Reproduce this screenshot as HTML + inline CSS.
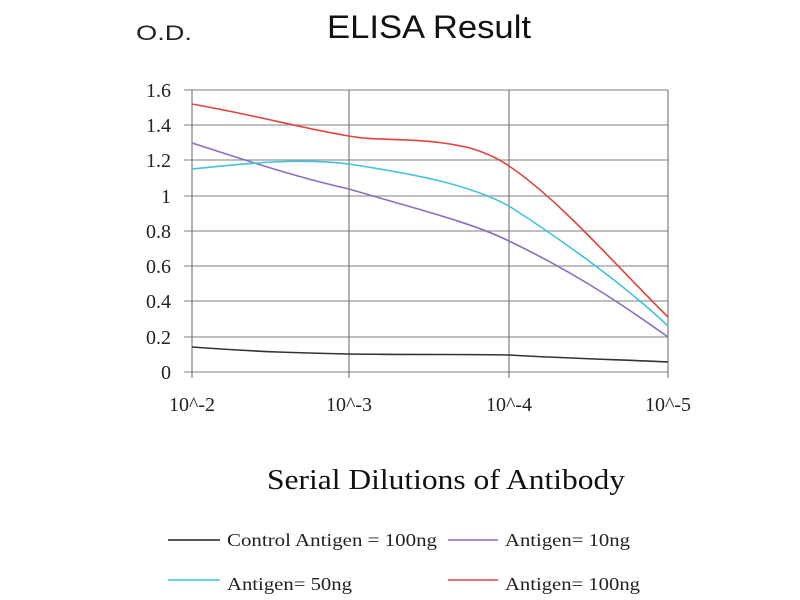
<!DOCTYPE html>
<html><head><style>body{margin:0;background:#fff}svg{display:block}</style></head><body>
<svg width="800" height="600" xmlns="http://www.w3.org/2000/svg" font-family="Liberation Serif, serif">
<text x="136" y="40" font-family="Liberation Sans, sans-serif" font-size="21" fill="#222" textLength="56" lengthAdjust="spacingAndGlyphs">O.D.</text>
<text x="327" y="38" font-family="Liberation Sans, sans-serif" font-size="32" fill="#111" textLength="204" lengthAdjust="spacingAndGlyphs">ELISA Result</text>
<g stroke="#999" stroke-width="1.3">
<line x1="184" x2="668" y1="90" y2="90"/><line x1="184" x2="668" y1="125" y2="125"/><line x1="184" x2="668" y1="160" y2="160"/><line x1="184" x2="668" y1="196" y2="196"/><line x1="184" x2="668" y1="231" y2="231"/><line x1="184" x2="668" y1="266" y2="266"/><line x1="184" x2="668" y1="301" y2="301"/><line x1="184" x2="668" y1="337" y2="337"/><line x1="184" x2="668" y1="372" y2="372"/>
</g>
<g stroke="#666" stroke-width="1">
<line x1="192" x2="192" y1="90" y2="378"/><line x1="349" x2="349" y1="90" y2="378"/><line x1="509" x2="509" y1="90" y2="378"/><line x1="668" x2="668" y1="90" y2="378"/>
</g>
<g font-size="20" fill="#222" text-anchor="end">
<text x="171" y="97">1.6</text><text x="171" y="132">1.4</text><text x="171" y="167">1.2</text><text x="171" y="203">1</text><text x="171" y="238">0.8</text><text x="171" y="273">0.6</text><text x="171" y="308">0.4</text><text x="171" y="344">0.2</text><text x="171" y="379">0</text>
</g>
<g font-size="20" fill="#222" text-anchor="middle">
<text x="192" y="411">10^-2</text><text x="349" y="411">10^-3</text><text x="509" y="411">10^-4</text><text x="668" y="411">10^-5</text>
</g>
<g fill="none" stroke-width="1.6">
<path d="M192,347 C260,352 300,353 349,354 C420,355 470,354 509,355 C580,359 630,360 668,362" stroke="#333"/>
<path d="M192,143 C260,165 300,178 349,189 C420,210 470,222 509,241 C580,275 630,310 668,337" stroke="#8e6cc0"/>
<path d="M192,169 C250,163 300,158 349,164 C420,175 470,185 509,206 C570,245 630,290 668,326" stroke="#3fc3de"/>
<path d="M192,104 C260,116 300,128 349,136 C380,142 420,136 470,148 C490,154 500,160 509,166 C560,200 620,270 668,317" stroke="#e0443e"/>
</g>
<text x="267" y="489" font-size="28" fill="#111" textLength="358" lengthAdjust="spacingAndGlyphs">Serial Dilutions of Antibody</text>
<g stroke-width="1.5">
<line x1="168" x2="220" y1="540" y2="540" stroke="#222"/>
<line x1="448" x2="498" y1="540" y2="540" stroke="#8e6cc0"/>
<line x1="168" x2="220" y1="580" y2="580" stroke="#3fc3de"/>
<line x1="448" x2="498" y1="580" y2="580" stroke="#e0443e"/>
</g>
<g font-size="18" fill="#222" lengthAdjust="spacingAndGlyphs">
<text x="227" y="546" textLength="210" lengthAdjust="spacingAndGlyphs">Control Antigen = 100ng</text>
<text x="505" y="546" textLength="125" lengthAdjust="spacingAndGlyphs">Antigen= 10ng</text>
<text x="227" y="590" textLength="125" lengthAdjust="spacingAndGlyphs">Antigen= 50ng</text>
<text x="505" y="590" textLength="135" lengthAdjust="spacingAndGlyphs">Antigen= 100ng</text>
</g>
</svg>
</body></html>
